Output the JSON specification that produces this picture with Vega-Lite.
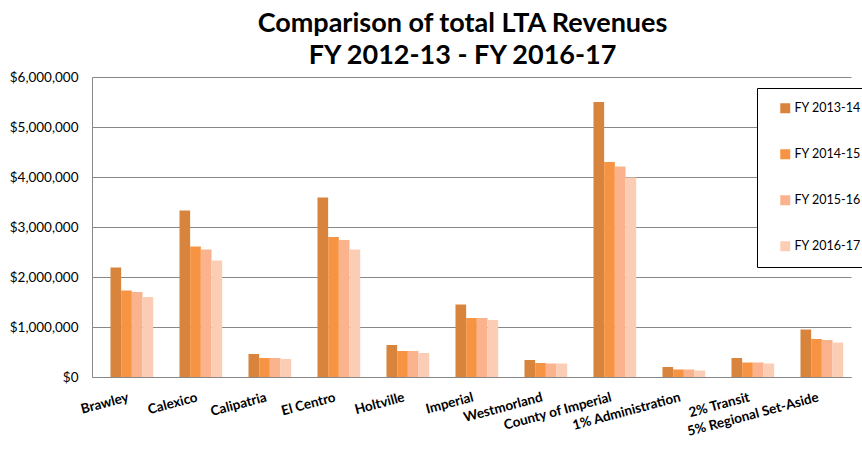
{
  "$schema": "https://vega.github.io/schema/vega-lite/v6.json",
  "autosize": "none",
  "width": 759,
  "height": 300,
  "padding": {"left": 92, "top": 77, "right": 11, "bottom": 76},
  "background": "white",
  "title": {
    "text": ["Comparison of total LTA Revenues", "FY 2012-13 - FY 2016-17"],
    "font": "Lato",
    "fontSize": 27,
    "fontWeight": "bold",
    "color": "#000000",
    "lineHeight": 32,
    "anchor": "middle",
    "dx": -9,
    "offset": 0
  },
  "config": {
    "view": {"stroke": null},
    "font": "Lato"
  },
  "data": {
    "values": [
      {"district": "Brawley", "year": "FY 2013-14", "revenue": 2190000},
      {"district": "Brawley", "year": "FY 2014-15", "revenue": 1730000},
      {"district": "Brawley", "year": "FY 2015-16", "revenue": 1700000},
      {"district": "Brawley", "year": "FY 2016-17", "revenue": 1600000},
      {"district": "Calexico", "year": "FY 2013-14", "revenue": 3330000},
      {"district": "Calexico", "year": "FY 2014-15", "revenue": 2610000},
      {"district": "Calexico", "year": "FY 2015-16", "revenue": 2550000},
      {"district": "Calexico", "year": "FY 2016-17", "revenue": 2330000},
      {"district": "Calipatria", "year": "FY 2013-14", "revenue": 460000},
      {"district": "Calipatria", "year": "FY 2014-15", "revenue": 380000},
      {"district": "Calipatria", "year": "FY 2015-16", "revenue": 380000},
      {"district": "Calipatria", "year": "FY 2016-17", "revenue": 360000},
      {"district": "El Centro", "year": "FY 2013-14", "revenue": 3590000},
      {"district": "El Centro", "year": "FY 2014-15", "revenue": 2800000},
      {"district": "El Centro", "year": "FY 2015-16", "revenue": 2740000},
      {"district": "El Centro", "year": "FY 2016-17", "revenue": 2550000},
      {"district": "Holtville", "year": "FY 2013-14", "revenue": 640000},
      {"district": "Holtville", "year": "FY 2014-15", "revenue": 520000},
      {"district": "Holtville", "year": "FY 2015-16", "revenue": 520000},
      {"district": "Holtville", "year": "FY 2016-17", "revenue": 480000},
      {"district": "Imperial", "year": "FY 2013-14", "revenue": 1450000},
      {"district": "Imperial", "year": "FY 2014-15", "revenue": 1180000},
      {"district": "Imperial", "year": "FY 2015-16", "revenue": 1180000},
      {"district": "Imperial", "year": "FY 2016-17", "revenue": 1140000},
      {"district": "Westmorland", "year": "FY 2013-14", "revenue": 340000},
      {"district": "Westmorland", "year": "FY 2014-15", "revenue": 280000},
      {"district": "Westmorland", "year": "FY 2015-16", "revenue": 270000},
      {"district": "Westmorland", "year": "FY 2016-17", "revenue": 270000},
      {"district": "County of Imperial", "year": "FY 2013-14", "revenue": 5500000},
      {"district": "County of Imperial", "year": "FY 2014-15", "revenue": 4300000},
      {"district": "County of Imperial", "year": "FY 2015-16", "revenue": 4210000},
      {"district": "County of Imperial", "year": "FY 2016-17", "revenue": 3990000},
      {"district": "1% Administration", "year": "FY 2013-14", "revenue": 200000},
      {"district": "1% Administration", "year": "FY 2014-15", "revenue": 150000},
      {"district": "1% Administration", "year": "FY 2015-16", "revenue": 150000},
      {"district": "1% Administration", "year": "FY 2016-17", "revenue": 130000},
      {"district": "2% Transit", "year": "FY 2013-14", "revenue": 380000},
      {"district": "2% Transit", "year": "FY 2014-15", "revenue": 290000},
      {"district": "2% Transit", "year": "FY 2015-16", "revenue": 290000},
      {"district": "2% Transit", "year": "FY 2016-17", "revenue": 270000},
      {"district": "5% Regional Set-Aside", "year": "FY 2013-14", "revenue": 950000},
      {"district": "5% Regional Set-Aside", "year": "FY 2014-15", "revenue": 760000},
      {"district": "5% Regional Set-Aside", "year": "FY 2015-16", "revenue": 740000},
      {"district": "5% Regional Set-Aside", "year": "FY 2016-17", "revenue": 690000}
    ]
  },
  "mark": {"type": "bar"},
  "encoding": {
    "x": {
      "field": "district",
      "type": "nominal",
      "sort": null,
      "scale": {"paddingInner": 0.226, "paddingOuter": 0.113},
      "axis": {
        "title": null,
        "labelAngle": -15,
        "labelAlign": "right",
        "labelBaseline": "top",
        "labelFont": "Lato",
        "labelFontWeight": "bold",
        "labelFontSize": 13.5,
        "labelColor": "#000000",
        "labelPadding": 13,
        "ticks": false,
        "domainColor": "#888888",
        "labelOverlap": false,
        "labelLimit": 300
      }
    },
    "xOffset": {
      "field": "year",
      "type": "nominal",
      "scale": {
        "domain": ["FY 2012-13", "FY 2013-14", "FY 2014-15", "FY 2015-16", "FY 2016-17"],
        "paddingInner": 0,
        "paddingOuter": 0
      }
    },
    "y": {
      "field": "revenue",
      "type": "quantitative",
      "scale": {"domain": [0, 6000000], "nice": false},
      "axis": {
        "title": null,
        "format": "$,.0f",
        "values": [0, 1000000, 2000000, 3000000, 4000000, 5000000, 6000000],
        "labelFont": "Lato",
        "labelFontSize": 13.5,
        "labelColor": "#000000",
        "labelPadding": 14,
        "ticks": false,
        "gridColor": "#888888",
        "gridOpacity": 1,
        "domainColor": "#888888"
      }
    },
    "color": {
      "field": "year",
      "type": "nominal",
      "scale": {
        "domain": ["FY 2013-14", "FY 2014-15", "FY 2015-16", "FY 2016-17"],
        "range": ["#D9843C", "#F79443", "#FAB38C", "#FCCDB5"]
      },
      "legend": {
        "title": null,
        "orient": "none",
        "legendX": 665,
        "legendY": 11,
        "direction": "vertical",
        "fillColor": "white",
        "strokeColor": "#000000",
        "padding": 14,
        "symbolOffset": 8,
        "symbolType": "square",
        "symbolSize": 100,
        "symbolStrokeWidth": 0,
        "labelFont": "Lato",
        "labelFontSize": 12.5,
        "labelColor": "#000000",
        "labelOffset": 3,
        "rowPadding": 33
      }
    }
  }
}
